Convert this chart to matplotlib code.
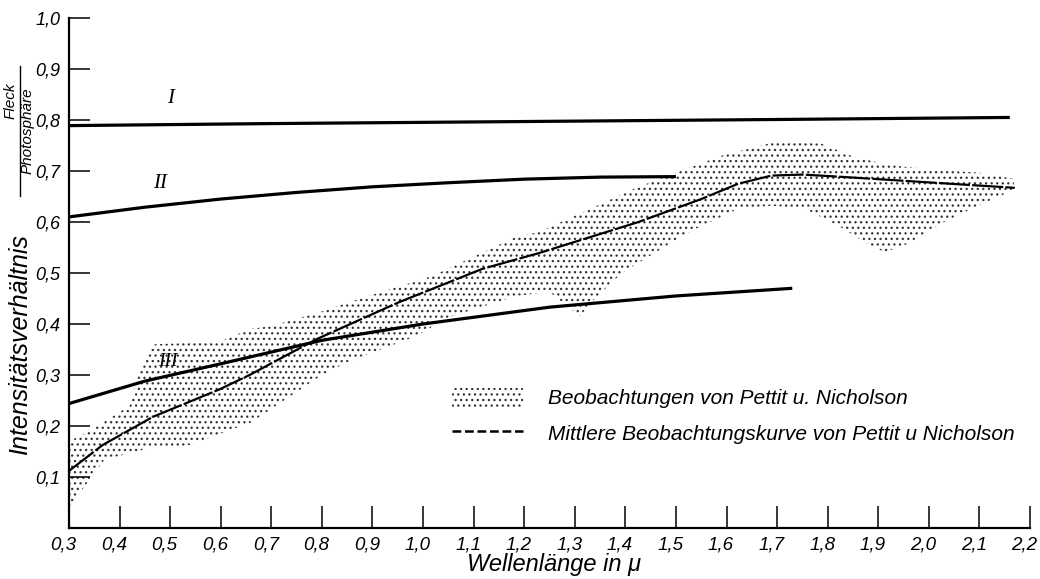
import matplotlib
matplotlib.use('Agg')
import matplotlib.pyplot as plt
import matplotlib.transforms as mtransforms
from matplotlib.patches import Patch
from matplotlib.lines import Line2D

plt.rcParams['font.family'] = ['Liberation Sans', 'DejaVu Sans']
plt.rcParams['font.style'] = 'italic'
plt.rcParams['hatch.color'] = '#333333'
plt.rcParams['hatch.linewidth'] = 0.9

# Kurve I
x_I = [0.3, 0.7, 1.2, 1.7, 2.16]
y_I = [0.789, 0.793, 0.797, 0.801, 0.805]

# Kurve II
x_II = [0.3, 0.45, 0.6, 0.75, 0.9, 1.05, 1.2, 1.35, 1.5]
y_II = [0.610, 0.629, 0.645, 0.658, 0.669, 0.677, 0.684, 0.688, 0.689]

# Kurve III
x_III = [0.3, 0.45, 0.6, 0.8, 1.0, 1.25, 1.5, 1.73]
y_III = [0.244, 0.288, 0.322, 0.368, 0.400, 0.433, 0.455, 0.470]

# Mittlere Beobachtungskurve
x_mean = [0.3, 0.367, 0.466, 0.598, 0.657, 0.789, 0.953, 1.117, 1.229, 1.426,
          1.55, 1.623, 1.689, 1.75, 1.82, 1.979, 2.17]
y_mean = [0.112, 0.163, 0.218, 0.272, 0.300, 0.370, 0.443, 0.508, 0.539, 0.600,
          0.645, 0.675, 0.691, 0.693, 0.689, 0.679, 0.667]

# Beobachtungen (Band): obere und untere Grenze
x_upper = [0.3, 0.335, 0.42, 0.44, 0.466, 0.6, 0.657, 0.7, 0.795, 0.854, 1.018,
           1.184, 1.229, 1.426, 1.59, 1.70, 1.787, 1.846, 1.894, 1.945, 2.044,
           2.097, 2.166, 2.17]
y_upper = [0.17, 0.187, 0.24, 0.31, 0.36, 0.366, 0.39, 0.396, 0.423, 0.443, 0.494,
           0.571, 0.58, 0.669, 0.73, 0.758, 0.754, 0.73, 0.718, 0.709, 0.70,
           0.697, 0.685, 0.667]
x_lower = [0.3, 0.37, 0.46, 0.53, 0.66, 0.8, 0.854, 0.986, 1.05, 1.184, 1.25,
           1.31, 1.34, 1.393, 1.525, 1.623, 1.689, 1.755, 1.82, 1.886, 1.913,
           1.958, 2.03, 2.097, 2.15, 2.17]
y_lower = [0.04, 0.134, 0.157, 0.16, 0.207, 0.30, 0.327, 0.376, 0.413, 0.455, 0.463,
           0.415, 0.45, 0.50, 0.58, 0.626, 0.632, 0.626, 0.593, 0.553, 0.541,
           0.557, 0.60, 0.632, 0.655, 0.667]

x_ticks = [0.3, 0.4, 0.5, 0.6, 0.7, 0.8, 0.9, 1.0, 1.1, 1.2, 1.3, 1.4, 1.5, 1.6,
           1.7, 1.8, 1.9, 2.0, 2.1, 2.2]
x_tick_labels = ['0,3', '0,4', '0,5', '0,6', '0,7', '0,8', '0,9', '1,0', '1,1', '1,2',
                 '1,3', '1,4', '1,5', '1,6', '1,7', '1,8', '1,9', '2,0', '2,1', '2,2']
y_ticks = [0.1, 0.2, 0.3, 0.4, 0.5, 0.6, 0.7, 0.8, 0.9, 1.0]
y_tick_labels = ['0,1', '0,2', '0,3', '0,4', '0,5', '0,6', '0,7', '0,8', '0,9', '1,0']

fig = plt.figure(figsize=(10.4, 5.79), dpi=100)
ax = fig.add_axes([69 / 1040, 1 - 528 / 579, 961 / 1040, 510 / 579])

# Band der Beobachtungen
band_x = x_upper + x_lower[::-1]
band_y = y_upper + y_lower[::-1]
ax.fill(band_x, band_y, facecolor='none', edgecolor='#333333', hatch='...', linewidth=0)

ax.plot(x_I, y_I, color='black', lw=2.3, solid_capstyle='butt')
ax.plot(x_II, y_II, color='black', lw=2.3, solid_capstyle='butt')
ax.plot(x_III, y_III, color='black', lw=2.3, solid_capstyle='butt')
ax.plot(x_mean, y_mean, color='black', lw=1.6, linestyle=(0, (14, 1.0)))

ax.text(0.50, 0.842, 'I', family='Liberation Serif', fontsize=15, ha='center', va='center')
ax.text(0.48, 0.675, 'II', family='Liberation Serif', fontsize=15, ha='center', va='center')
ax.text(0.495, 0.327, 'III', family='Liberation Serif', fontsize=14, ha='center', va='center')

ax.set_xlim(0.3, 2.2)
ax.set_ylim(0, 1.0)
ax.spines['top'].set_visible(False)
ax.spines['right'].set_visible(False)
ax.spines['left'].set_linewidth(1.6)
ax.spines['bottom'].set_linewidth(1.6)

ax.set_xticks(x_ticks, labels=x_tick_labels)
ax.set_yticks(y_ticks, labels=y_tick_labels)
ax.tick_params(axis='x', direction='in', length=16, width=1.1, pad=6, labelsize=13.5)
ax.tick_params(axis='y', direction='in', length=15, width=1.1, pad=6, labelsize=13)

# italic labels sit a little left of their ticks
shift = mtransforms.ScaledTranslation(-4 / 72, 0, fig.dpi_scale_trans)
for lab in ax.get_xticklabels():
    lab.set_transform(lab.get_transform() + shift)

ax.set_xlabel('Wellenlänge in μ', fontsize=17)
ax.xaxis.set_label_coords((554 - 69) / 961, -0.05)

fig.text(20 / 1040, 1 - 345 / 579, 'Intensitätsverhältnis', rotation=90,
         ha='center', va='center', fontsize=18)
fig.text(11 / 1040, 1 - 101 / 579, 'Fleck', rotation=90, ha='center', va='center', fontsize=11)
fig.text(28 / 1040, 1 - 131 / 579, 'Photosphäre', rotation=90, ha='center', va='center', fontsize=11)
fig.add_artist(Line2D([20 / 1040, 20 / 1040], [1 - 66 / 579, 1 - 196 / 579],
                      color='black', lw=1.0))

handles = [Patch(facecolor='none', edgecolor='#333333', hatch='...', linewidth=0),
           Line2D([0], [0], color='black', lw=1.8, linestyle=(0, (3.5, 1.5)))]
labels = ['Beobachtungen von Pettit u. Nicholson',
          'Mittlere Beobachtungskurve von Pettit u Nicholson']
ax.legend(handles, labels, loc='upper left', bbox_to_anchor=((452 - 69) / 961, (528 - 388) / 510),
          frameon=False, fontsize=15, handlelength=3.4, handleheight=1.0,
          handletextpad=1.2, labelspacing=0.7, borderpad=0, borderaxespad=0)

fig.savefig('out.png', dpi=100)
